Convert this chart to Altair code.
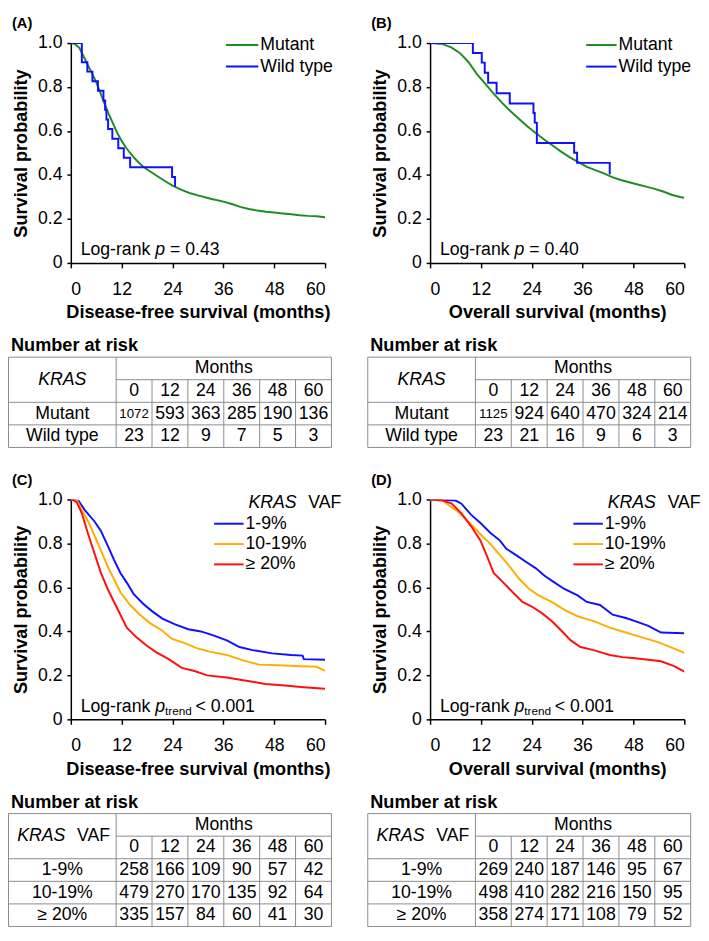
import altair as alt
import pandas as pd

FONT = "Liberation Sans"
MONTH_TICKS = [0, 12, 24, 36, 48, 60]
SURV_TICKS = [0, 0.2, 0.4, 0.6, 0.8, 1.0]

GREEN = "#1E8C23"
BLUE = "#1010FF"
ORANGE = "#FFAE00"
RED = "#FF1010"

# ---------------- Panel A: disease-free survival by KRAS status
A_MUT_T = [0, 1, 2, 3, 4, 5, 6, 7, 8, 9, 10, 11, 12, 13, 14, 15, 16, 17, 18, 20, 22, 24, 26, 28, 30, 33, 36, 38, 40, 42, 44, 46, 48, 50, 52, 54, 56, 58, 60]
A_MUT_S = [1.0, 0.995, 0.978, 0.94, 0.9, 0.862, 0.822, 0.772, 0.722, 0.675, 0.632, 0.59, 0.555, 0.525, 0.5, 0.477, 0.457, 0.44, 0.425, 0.4, 0.375, 0.352, 0.333, 0.318, 0.307, 0.292, 0.279, 0.268, 0.255, 0.245, 0.238, 0.233, 0.229, 0.225, 0.221, 0.217, 0.214, 0.212, 0.208]
A_WT_T = [0, 2.6, 3.9, 5.1, 6.4, 7.7, 8.1, 8.4, 8.8, 9.8, 11.2, 12.5, 14.0, 23.9, 24.6]
A_WT_S = [1.0, 0.913, 0.870, 0.826, 0.783, 0.739, 0.696, 0.652, 0.609, 0.565, 0.522, 0.478, 0.435, 0.391, 0.348]

# ---------------- Panel B: overall survival by KRAS status
B_MUT_T = [0, 3, 5, 7, 9, 11, 13, 15, 17, 19, 21, 23, 25, 27, 29, 31, 33, 35, 37, 39, 41, 43, 45, 47, 49, 51, 53, 55, 57, 59, 60]
B_MUT_S = [1.0, 0.995, 0.98, 0.955, 0.915, 0.86, 0.815, 0.77, 0.728, 0.69, 0.655, 0.62, 0.59, 0.56, 0.533, 0.505, 0.48, 0.458, 0.437, 0.422, 0.407, 0.39, 0.377, 0.367, 0.357, 0.347, 0.337, 0.325, 0.31, 0.3, 0.296]
B_WT_T = [0, 10.1, 12.2, 12.9, 13.7, 15.7, 18.8, 24.4, 24.7, 25.2, 34.0, 34.7, 42.4]
B_WT_S = [1.0, 0.955, 0.911, 0.865, 0.819, 0.772, 0.725, 0.682, 0.638, 0.545, 0.501, 0.455, 0.403]

# ---------------- Panel C: disease-free survival by KRAS VAF
C_LOW_T = [0, 1.8, 3.3, 5.6, 7.1, 8.7, 10.2, 11.7, 13.2, 14.8, 17, 19.3, 21.6, 24.6, 27.7, 30.7, 33.8, 36.8, 39.8, 42.9, 47.5, 52, 54.7, 55, 60]
C_LOW_S = [1.0, 0.995, 0.952, 0.9, 0.857, 0.79, 0.725, 0.666, 0.622, 0.571, 0.527, 0.49, 0.458, 0.432, 0.41, 0.4, 0.381, 0.359, 0.329, 0.315, 0.3, 0.293, 0.29, 0.274, 0.271]
C_MID_T = [0, 1.5, 2.6, 4.1, 5.6, 7.1, 8.7, 10.2, 11.7, 14, 16.3, 18.6, 21.6, 23.9, 26.9, 30, 33, 36.8, 40.6, 44.4, 49, 54.3, 58, 60]
C_MID_S = [1.0, 0.995, 0.952, 0.9, 0.835, 0.769, 0.695, 0.637, 0.578, 0.52, 0.476, 0.439, 0.403, 0.366, 0.347, 0.322, 0.307, 0.293, 0.268, 0.249, 0.246, 0.242, 0.239, 0.22]
C_HIGH_T = [0, 0.8, 1.4, 2.6, 4.1, 5.6, 7.1, 8.7, 10.2, 11.7, 13.2, 15.5, 17.8, 20, 23.1, 26.2, 29.2, 32.2, 36.8, 41.4, 45.9, 50.5, 55, 60]
C_HIGH_S = [1.0, 0.995, 0.988, 0.937, 0.842, 0.754, 0.666, 0.593, 0.534, 0.476, 0.417, 0.373, 0.337, 0.307, 0.274, 0.234, 0.22, 0.2, 0.19, 0.176, 0.161, 0.154, 0.146, 0.139]

# ---------------- Panel D: overall survival by KRAS VAF
D_LOW_T = [0, 6, 7.4, 9.7, 11.9, 14.2, 16.5, 18, 20.3, 22.6, 24.9, 27.1, 29.4, 31.7, 34.8, 37, 40.1, 43.1, 46.2, 48.4, 51.5, 54.5, 60]
D_LOW_S = [1.0, 0.995, 0.981, 0.93, 0.893, 0.849, 0.813, 0.776, 0.747, 0.717, 0.688, 0.652, 0.622, 0.593, 0.564, 0.534, 0.52, 0.476, 0.461, 0.447, 0.425, 0.395, 0.392]
D_MID_T = [0, 3, 4.3, 6.6, 9.7, 11.9, 14.2, 16.5, 18.8, 21.1, 23.4, 25.6, 28.7, 31.7, 34.8, 38.6, 42.4, 46.2, 50, 53.8, 57.6, 60]
D_MID_S = [1.0, 0.995, 0.975, 0.944, 0.886, 0.842, 0.798, 0.747, 0.695, 0.637, 0.593, 0.564, 0.534, 0.498, 0.469, 0.447, 0.417, 0.395, 0.373, 0.351, 0.322, 0.303]
D_HIGH_T = [0, 3, 5.1, 7.4, 9.7, 11.9, 13.5, 15, 17.3, 19.5, 21.8, 24.1, 26.4, 28.7, 31, 33.2, 35.5, 38.6, 42.4, 45.4, 48.4, 51.5, 54.5, 57.6, 60]
D_HIGH_S = [1.0, 0.995, 0.981, 0.937, 0.878, 0.813, 0.739, 0.666, 0.622, 0.578, 0.534, 0.512, 0.483, 0.447, 0.403, 0.359, 0.329, 0.315, 0.293, 0.283, 0.278, 0.271, 0.264, 0.242, 0.217]

# ---------------- Numbers at risk
STATUS_GROUPS = ["Mutant", "Wild type"]
VAF_GROUPS = ["1-9%", "10-19%", "\u2265 20%"]
A_RISK = [[1072, 593, 363, 285, 190, 136], [23, 12, 9, 7, 5, 3]]
B_RISK = [[1125, 924, 640, 470, 324, 214], [23, 21, 16, 9, 6, 3]]
C_RISK = [[258, 166, 109, 90, 57, 42], [479, 270, 170, 135, 92, 64], [335, 157, 84, 60, 41, 30]]
D_RISK = [[269, 240, 187, 146, 95, 67], [498, 410, 282, 216, 150, 95], [358, 274, 171, 108, 79, 52]]

KM_W, KM_H = 259, 224
TAB_LEFT = -63.5      # table left edge relative to the survival plot's left axis (px)
TAB_W = 329.0         # table width (px)
ROW_H = 23
ONE = alt.Data(values=[{}])


def txt(text, x, y, size=18, style="normal", weight="normal", align="left", color="black"):
    return alt.Chart(ONE).mark_text(
        text=text, align=align, baseline="middle", fontSize=size, font=FONT,
        fontStyle=style, fontWeight=weight, color=color
    ).encode(x=alt.value(x), y=alt.value(y))


def km_panel(letter, xtitle, series, vaf, lx, ly0, ldy, llen, pval):
    frames = [pd.DataFrame({"group": s[0], "col": s[3], "t": s[1], "s": s[2]}) for s in series]
    df = pd.concat(frames, ignore_index=True)
    x = alt.X("t:Q", scale=alt.Scale(domain=[0, 60], nice=False, zero=False),
              axis=alt.Axis(values=MONTH_TICKS, title=xtitle, labelPadding=13,
                            tickSize=5, titlePadding=5))
    y = alt.Y("s:Q", scale=alt.Scale(domain=[0, 1], nice=False),
              axis=alt.Axis(values=SURV_TICKS, title="Survival probability",
                            labelExpr="datum.value == 0 ? '0' : format(datum.value, '.1f')",
                            tickSize=4, labelPadding=5, titlePadding=7))
    color = alt.Color("col:N", scale=None, legend=None)
    layers = []
    for interp in ["linear", "step-after"]:
        sub = [s[0] for s in series if s[4] == interp]
        if not sub:
            continue
        layers.append(
            alt.Chart(df).transform_filter(alt.FieldOneOfPredicate(field="group", oneOf=sub))
            .mark_line(interpolate=interp, strokeWidth=2, clip=True)
            .encode(x=x, y=y, color=color, detail="group:N")
        )
    # legend
    yy = ly0
    if vaf:
        layers.append(txt("KRAS", lx + 3, yy, style="italic"))
        layers.append(txt("VAF", lx + 64, yy))
        yy += ldy
    for s in series:
        layers.append(alt.Chart(ONE).mark_rule(color=s[3], strokeWidth=2)
                      .encode(x=alt.value(lx - 2 - llen), x2=alt.value(lx - 2), y=alt.value(yy)))
        layers.append(txt(s[0], lx, yy))
        yy += ldy
    # log-rank annotation
    ty = KM_H - 13
    layers.append(txt("Log-rank", 10, ty))
    layers.append(txt("p", 86, ty, style="italic"))
    if vaf:
        layers.append(txt("trend", 96, ty + 5, size=12))
        layers.append(txt("< " + pval, 127, ty))
    else:
        layers.append(txt("= " + pval, 101, ty))
    return alt.layer(*layers).properties(
        width=KM_W, height=KM_H,
        title=alt.TitleParams(letter, anchor="start", frame="bounds", fontSize=15,
                              font=FONT, fontWeight="bold", color="black", offset=3)
    )


def table_panel(groups, risk, vaf):
    ncol = len(MONTH_TICKS)
    n = 2 + len(groups)
    unit = TAB_W / (ncol + 3)
    d0 = -3 - TAB_LEFT / unit
    d1 = d0 + KM_W / unit
    lines = [dict(x=-3, x2=ncol, y=0, y2=0), dict(x=-3, x2=ncol, y=n, y2=n),
             dict(x=-3, x2=-3, y=0, y2=n), dict(x=ncol, x2=ncol, y=0, y2=n),
             dict(x=0, x2=ncol, y=1, y2=1), dict(x=0, x2=0, y=0, y2=n)]
    for r in range(2, n):
        lines.append(dict(x=-3, x2=ncol, y=r, y2=r))
    for c in range(1, ncol):
        lines.append(dict(x=c, x2=c, y=1, y2=n))
    X = alt.X("x:Q", scale=alt.Scale(domain=[d0, d1], nice=False, zero=False), axis=None)
    Y = alt.Y("y:Q", scale=alt.Scale(domain=[0, n], nice=False, reverse=True), axis=None)
    rules = alt.Chart(pd.DataFrame(lines)).mark_rule(color="#8a8a8a", strokeWidth=1).encode(
        x=X, x2="x2:Q", y=Y, y2="y2:Q")
    head = pd.DataFrame({"x": [i + 0.5 for i in range(ncol)], "y": [1.5] * ncol,
                         "label": [str(m) for m in MONTH_TICKS]})
    head = pd.concat([head, pd.DataFrame({"x": [ncol / 2], "y": [0.5], "label": ["Months"]})],
                     ignore_index=True)
    glab = pd.DataFrame({"x": [-1.5] * len(groups), "y": [2.5 + j for j in range(len(groups))],
                         "label": groups})
    cells = pd.DataFrame([{"x": i + 0.5, "y": 2.5 + j, "n": v}
                          for j, row in enumerate(risk) for i, v in enumerate(row)])
    tstyle = dict(baseline="middle", align="center", font=FONT, fontSize=18, color="black")
    layers = [
        rules,
        alt.Chart(pd.concat([head, glab], ignore_index=True)).mark_text(**tstyle)
        .encode(x=X, y=Y, text="label:N"),
        alt.Chart(cells).mark_text(**tstyle).encode(
            x=X, y=Y, text=alt.Text("n:Q", format="d"),
            size=alt.condition("datum.n >= 1000", alt.value(13.5), alt.value(18))),
    ]
    hdr = pd.DataFrame({"x": [-1.5], "y": [1.0]})
    if vaf:
        layers.append(alt.Chart(hdr).mark_text(text="KRAS", fontStyle="italic", dx=3,
                                               **{**tstyle, "align": "right"}).encode(x=X, y=Y))
        layers.append(alt.Chart(hdr).mark_text(text="VAF", dx=15,
                                               **{**tstyle, "align": "left"}).encode(x=X, y=Y))
    else:
        layers.append(alt.Chart(hdr).mark_text(text="KRAS", fontStyle="italic", **tstyle)
                      .encode(x=X, y=Y))
    return alt.layer(*layers).properties(
        width=KM_W, height=ROW_H * n,
        title=alt.TitleParams("Number at risk", anchor="start", frame="bounds", fontSize=18.5,
                              font=FONT, fontWeight="bold", color="black", offset=2, dx=3)
    )


pA = km_panel("(A)", "Disease-free survival (months)",
              [("Mutant", A_MUT_T, A_MUT_S, GREEN, "linear"),
               ("Wild type", A_WT_T, A_WT_S, BLUE, "step-after")],
              False, 193, 2, 22, 33, "0.43")
pB = km_panel("(B)", "Overall survival (months)",
              [("Mutant", B_MUT_T, B_MUT_S, GREEN, "linear"),
               ("Wild type", B_WT_T, B_WT_S, BLUE, "step-after")],
              False, 192, 2, 22, 31, "0.40")
pC = km_panel("(C)", "Disease-free survival (months)",
              [("1-9%", C_LOW_T, C_LOW_S, BLUE, "linear"),
               ("10-19%", C_MID_T, C_MID_S, ORANGE, "linear"),
               ("\u2265 20%", C_HIGH_T, C_HIGH_S, RED, "linear")],
              True, 178, 4, 20.7, 30, "0.001")
pD = km_panel("(D)", "Overall survival (months)",
              [("1-9%", D_LOW_T, D_LOW_S, BLUE, "linear"),
               ("10-19%", D_MID_T, D_MID_S, ORANGE, "linear"),
               ("\u2265 20%", D_HIGH_T, D_HIGH_S, RED, "linear")],
              True, 178, 4, 20.7, 30, "0.001")

tA = table_panel(STATUS_GROUPS, A_RISK, False)
tB = table_panel(STATUS_GROUPS, B_RISK, False)
tC = table_panel(VAF_GROUPS, C_RISK, True)
tD = table_panel(VAF_GROUPS, D_RISK, True)

left = alt.vconcat(alt.vconcat(pA, tA, spacing=15), alt.vconcat(pC, tC, spacing=15), spacing=25)
right = alt.vconcat(alt.vconcat(pB, tB, spacing=15), alt.vconcat(pD, tD, spacing=15), spacing=25)

chart = alt.hconcat(left, right, spacing=26).properties(
    padding={"left": 0, "top": 0, "right": 0, "bottom": 0}
).configure_view(stroke=None).configure_axis(
    grid=False, domainColor="black", domainWidth=1.5, tickColor="black", tickWidth=1.5,
    labelFont=FONT, labelFontSize=18, labelColor="black",
    titleFont=FONT, titleFontSize=18.5, titleFontWeight="bold", titleColor="black"
)

chart.save("out.html", embed_options={"renderer": "svg", "actions": False})
